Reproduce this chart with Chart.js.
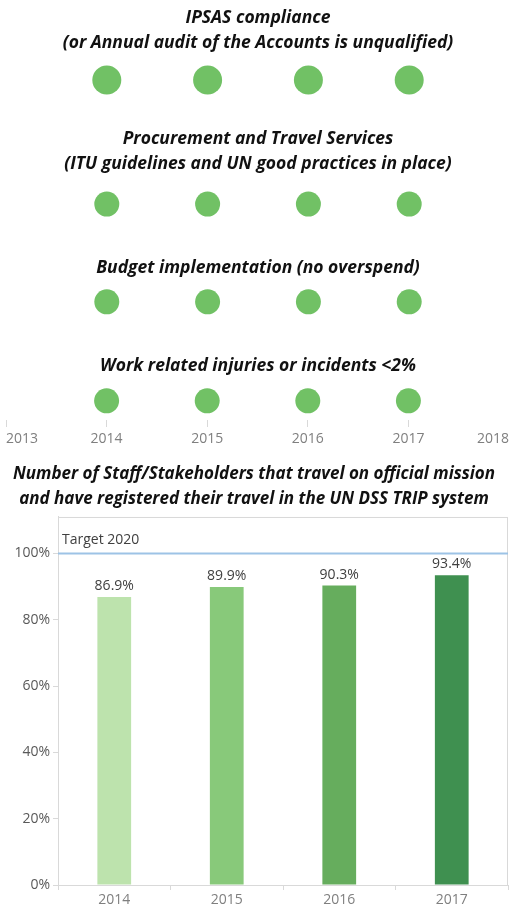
<!DOCTYPE html>
<html lang="en">
<head>
    <meta charset="UTF-8">
    <title>Administrative KPIs</title>
    <script src="https://cdn.jsdelivr.net/npm/chart.js"></script>
    <style>
        html, body { margin: 0; background: #fff; overflow: hidden; }
        .box { position: absolute; left: 0; width: 509px; }
        .row { width: 513px; }
        #rowA { top: 0; height: 112px; }
        #rowB { top: 112px; height: 128px; }
        #rowC { top: 240px; height: 100px; }
        #rowD { top: 340px; height: 111px; }
        #tripBox { top: 451px; height: 460px; }
    </style>
</head>
<body>
    <div class="box row" id="rowA"><canvas id="chartA"></canvas></div>
    <div class="box row" id="rowB"><canvas id="chartB"></canvas></div>
    <div class="box row" id="rowC"><canvas id="chartC"></canvas></div>
    <div class="box row" id="rowD"><canvas id="chartD"></canvas></div>
    <div class="box" id="tripBox"><canvas id="tripChart"></canvas></div>

    <script>
        // yearly status indicators (1 = achieved)
        const years = [2014, 2015, 2016, 2017];
        const ipsasStatus = [1, 1, 1, 1];
        const procurementStatus = [1, 1, 1, 1];
        const budgetStatus = [1, 1, 1, 1];
        const injuriesStatus = [1, 1, 1, 1];
        const axisYears = [2013, 2014, 2015, 2016, 2017, 2018];

        // UN DSS TRIP registration
        const tripYears = ['2014', '2015', '2016', '2017'];
        const tripRates = [86.9, 89.9, 90.3, 93.4];
        const tripColors = ['#bde3ad', '#88c97a', '#66ad5d', '#3f9050'];
        const target2020 = 100;
        const pctTicks = [0, 20, 40, 60, 80, 100];

        const green = '#71c165';
        const titleFont = { family: 'Open Sans', size: 17.5, weight: 'bold', style: 'italic', lineHeight: 1.463 };
        Chart.defaults.font.family = 'Open Sans';
        Chart.defaults.animation = false;

        function statusChart(id, title, status, opts) {
            const showAxis = !!opts.showAxis;
            new Chart(document.getElementById(id), {
                type: 'scatter',
                data: {
                    datasets: [{
                        data: years.map((y, i) => ({ x: y, y: status[i] })),
                        backgroundColor: green,
                        borderWidth: 0,
                        pointRadius: opts.radius,
                        pointHoverRadius: opts.radius
                    }]
                },
                options: {
                    responsive: true,
                    maintainAspectRatio: false,
                    // the row canvas is a few px wider than the page so the 2018 edge sits at the border
                    layout: { autoPadding: false, padding: { left: 6, right: 3, top: 0, bottom: opts.bottom } },
                    plugins: {
                        legend: { display: false },
                        tooltip: { enabled: false },
                        title: {
                            display: true,
                            text: title,
                            color: '#111',
                            font: titleFont,
                            padding: { top: opts.padTop, bottom: opts.padBottom }
                        }
                    },
                    scales: {
                        x: {
                            type: 'linear',
                            display: showAxis,
                            min: axisYears[0],
                            max: axisYears[axisYears.length - 1],
                            afterBuildTicks: s => { s.ticks = axisYears.map(v => ({ value: v })); },
                            afterFit: s => { if (showAxis) s.height = 31; },
                            border: { display: false },
                            grid: { drawOnChartArea: false, drawTicks: true, tickLength: 7, color: '#d9d9d9' },
                            ticks: {
                                align: 'inner',
                                padding: 4,
                                color: '#7f7f7f',
                                font: { size: 14 },
                                maxRotation: 0,
                                callback: v => String(v)
                            }
                        },
                        y: { display: false, min: 0, max: 2 }
                    }
                }
            });
        }

        statusChart('chartA', ['IPSAS compliance', '(or Annual audit of the Accounts is unqualified)'],
            ipsasStatus, { radius: 14.5, padTop: 5, padBottom: 0, bottom: 8 });
        statusChart('chartB', ['Procurement and Travel Services', '(ITU guidelines and UN good practices in place)'],
            procurementStatus, { radius: 12.5, padTop: 14, padBottom: 0, bottom: 9 });
        statusChart('chartC', 'Budget implementation (no overspend)',
            budgetStatus, { radius: 12.5, padTop: 15, padBottom: 0, bottom: 17 });
        statusChart('chartD', 'Work related injuries or incidents <2%',
            injuriesStatus, { radius: 12.5, padTop: 13, padBottom: 3, bottom: 0, showAxis: true });

        // frame, target line and value labels for the bar chart
        const tripDecor = {
            id: 'tripDecor',
            afterDatasetsDraw(chart) {
                const { ctx, chartArea: a, scales } = chart;
                ctx.save();
                ctx.strokeStyle = '#d9d9d9';
                ctx.lineWidth = 1;
                ctx.strokeRect(a.left + 0.5, a.top + 0.5, a.right - a.left - 1, a.bottom - a.top);

                const ty = scales.y.getPixelForValue(target2020);
                ctx.strokeStyle = '#9dc3e6';
                ctx.lineWidth = 2;
                ctx.beginPath();
                ctx.moveTo(a.left, ty);
                ctx.lineTo(a.right, ty);
                ctx.stroke();

                ctx.fillStyle = '#404040';
                ctx.font = '14px "Open Sans"';
                ctx.textAlign = 'left';
                ctx.textBaseline = 'middle';
                ctx.fillText('Target 2020', a.left + 4, ty - 13);

                ctx.textAlign = 'center';
                chart.getDatasetMeta(0).data.forEach((bar, i) => {
                    ctx.fillText(tripRates[i].toFixed(1) + '%', bar.x, bar.y - 11);
                });
                ctx.restore();
            }
        };

        new Chart(document.getElementById('tripChart'), {
            type: 'bar',
            data: {
                labels: tripYears,
                datasets: [{
                    data: tripRates,
                    backgroundColor: tripColors,
                    borderWidth: 0,
                    barPercentage: 0.3,
                    categoryPercentage: 1
                }]
            },
            options: {
                responsive: true,
                maintainAspectRatio: false,
                layout: { padding: { left: 0, right: 1, top: 0, bottom: 0 } },
                plugins: {
                    legend: { display: false },
                    tooltip: { enabled: false },
                    title: {
                        display: true,
                        text: ['Number of Staff/Stakeholders that travel on official mission',
                               'and have registered their travel in the UN DSS TRIP system'],
                        color: '#111',
                        font: { family: 'Open Sans', size: 17, weight: 'bold', style: 'italic', lineHeight: 1.47 },
                        padding: { top: 11, bottom: 5 }
                    }
                },
                scales: {
                    x: {
                        afterFit: s => { s.height = 26; },
                        border: { color: '#d9d9d9' },
                        grid: { offset: true, drawOnChartArea: false, tickLength: 5, color: '#d9d9d9' },
                        ticks: { color: '#7f7f7f', font: { size: 14 }, padding: 2 }
                    },
                    y: {
                        min: 0,
                        max: 111,
                        afterFit: s => { s.width = 58; },
                        afterBuildTicks: s => { s.ticks = pctTicks.map(v => ({ value: v })); },
                        border: { color: '#d9d9d9' },
                        grid: { drawOnChartArea: false, tickLength: 5, color: '#d9d9d9' },
                        ticks: { color: '#595959', font: { size: 14 }, padding: 3, callback: v => v + '%' }
                    }
                }
            },
            plugins: [tripDecor]
        });
    </script>
</body>
</html>
